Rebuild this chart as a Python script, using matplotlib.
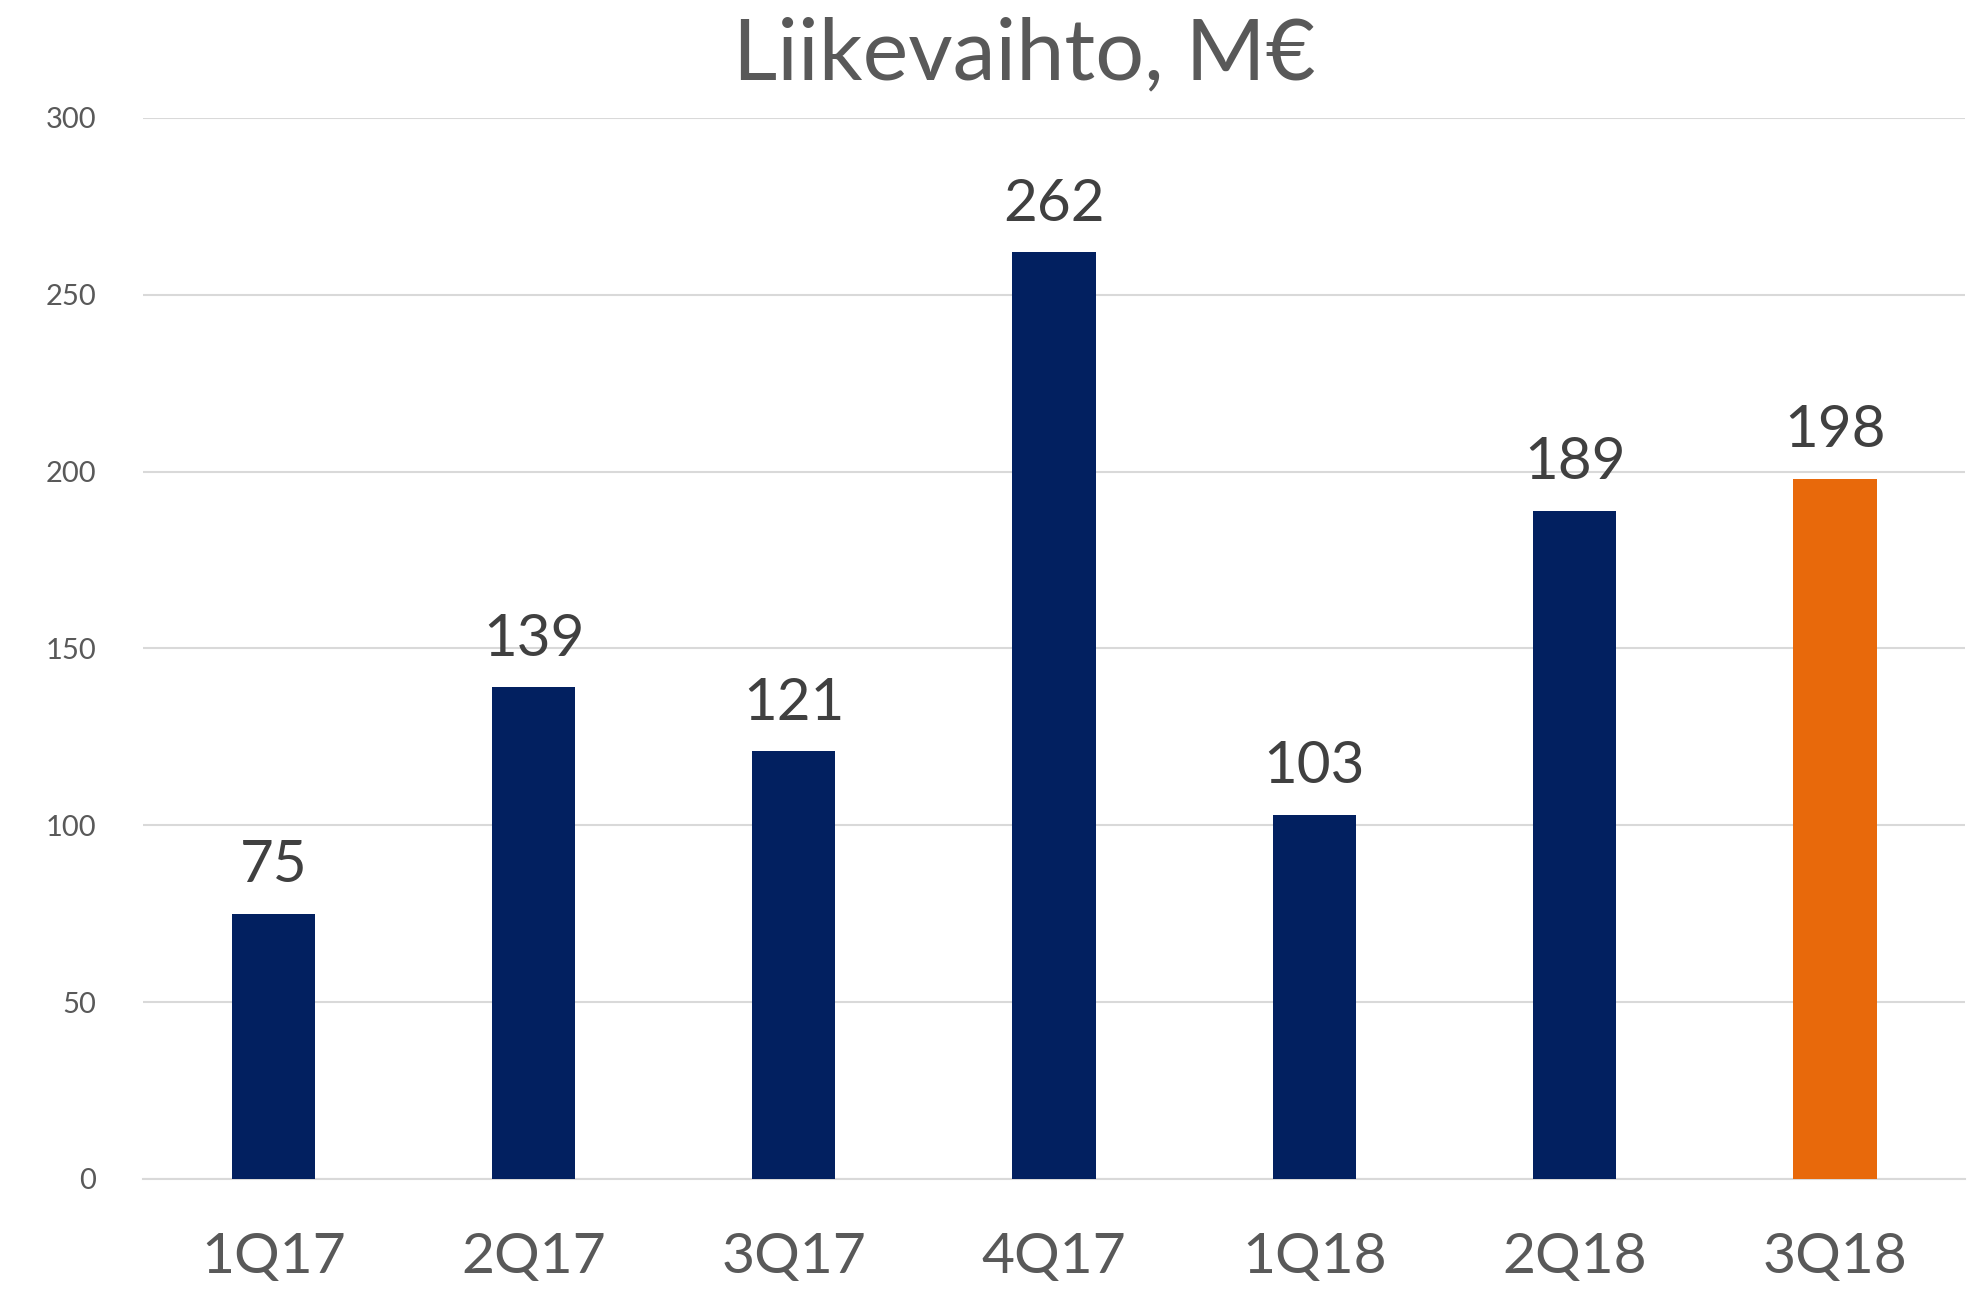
import matplotlib
matplotlib.use('Agg')
import matplotlib.pyplot as plt

quarters = ['1Q17', '2Q17', '3Q17', '4Q17', '1Q18', '2Q18', '3Q18']
revenue = [75, 139, 121, 262, 103, 189, 198]
bar_colors = ['#022060'] * 6 + ['#E8690B']
yticks = [0, 50, 100, 150, 200, 250, 300]

plt.rcParams['font.family'] = ['Lato', 'DejaVu Sans']

fig = plt.figure(figsize=(19.88, 12.91), dpi=100)
ax = fig.add_axes([0.072, 0.0868, 0.9165, 0.8218])

x = range(len(quarters))
bars = ax.bar(x, revenue, width=0.32, color=bar_colors, zorder=3)

for xi, v in zip(x, revenue):
    ax.text(xi, v + 6, str(v), ha='center', va='bottom', fontsize=42, color='#404040')

ax.set_ylim(0, 300)
ax.set_xlim(-0.5, len(quarters) - 0.5)
ax.set_yticks(yticks)
ax.set_yticklabels([str(t) for t in yticks], fontsize=21, color='#595959')
ax.set_xticks(list(x))
ax.set_xticklabels(quarters, fontsize=41, color='#595959')
ax.tick_params(axis='y', length=0, pad=34)
ax.tick_params(axis='x', length=0, pad=38)

ax.grid(axis='y', color='#D9D9D9', linewidth=1.5, zorder=0)
for s in ['top', 'right', 'left']:
    ax.spines[s].set_visible(False)
ax.spines['bottom'].set_color('#D9D9D9')
ax.spines['bottom'].set_linewidth(1.5)

fig.text(0.515, 0.957, 'Liikevaihto, M€', ha='center', va='center', fontsize=62, color='#595959')

fig.savefig('out.png', dpi=100, facecolor='white')
